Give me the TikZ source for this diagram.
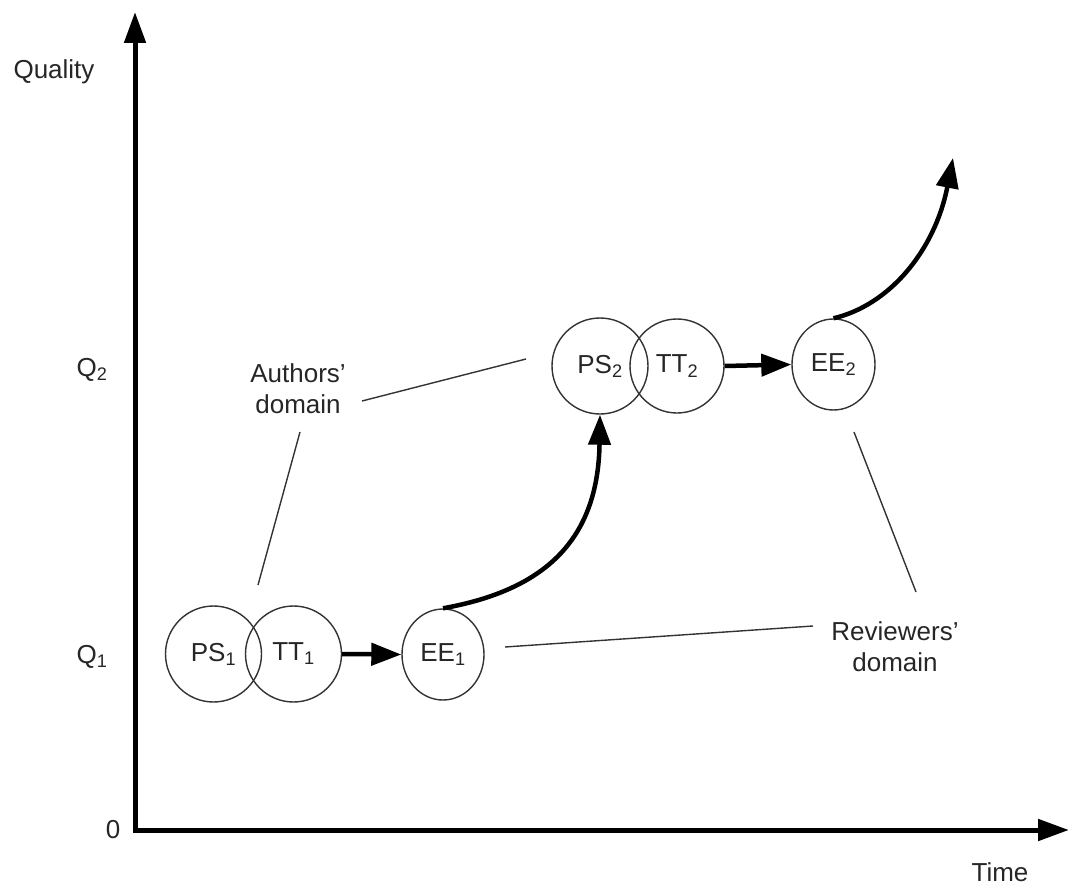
\documentclass[tikz,border=0pt]{standalone}
\usepackage{fontspec}
\setmainfont{Liberation Sans}
\usetikzlibrary{arrows.meta,shapes.geometric}
\begin{document}
\begin{tikzpicture}[x=1pt,y=-1pt,
  lbl/.style={font=\fontsize{26}{31}\selectfont, text=black!85, inner sep=0pt, align=center},
  circ/.style={draw=black!80, line width=1.4pt, circle, minimum size=96pt, inner sep=0pt, font=\fontsize{26}{31}\selectfont, text=black!85},
  ell/.style={draw=black!80, line width=1.4pt, ellipse, minimum width=82pt, minimum height=91pt, inner sep=0pt, font=\fontsize{26}{31}\selectfont, text=black!85},
  axis/.style={line width=5pt, -{Triangle[length=31pt,width=21pt]}},
  flow/.style={line width=4.5pt, -{Triangle[length=30pt,width=22pt]}},
  thin/.style={draw=black!80, line width=1.4pt}
]
\useasboundingbox (0,0) rectangle (1071,888);
% axes
\coordinate (O) at (135,830);
\coordinate (ytop) at (135,12);
\coordinate (xend) at (1069,830);
\draw[axis, line cap=rect] (O) -- (ytop);
\draw[axis] (O) -- (xend);
% axis labels
\node[lbl] (quality) at (54,72) {Quality};
\node[lbl] (q2) at (92,370) {Q\textsubscript{2}};
\node[lbl] (q1) at (92,657) {Q\textsubscript{1}};
\node[lbl] (zero) at (113,830) {0};
\node[lbl] (time) at (1000,872) {Time};
% stage 1
\node[circ] (ps1) at (213.5,654) {PS\textsubscript{1}};
\node[circ] (tt1) at (293.5,654) {TT\textsubscript{1}};
\node[ell] (ee1) at (443,654.5) {EE\textsubscript{1}};
% stage 2
\node[circ] (ps2) at (600,366) {PS\textsubscript{2}};
\node[circ, minimum size=94pt] (tt2) at (677,366) {TT\textsubscript{2}};
\node[ell, minimum width=83pt] (ee2) at (833.5,364.5) {EE\textsubscript{2}};
% flow arrows
\draw[flow] (tt1.east) -- (ee1.west);
\draw[flow] (tt2.east) -- (ee2.west);
\draw[flow] (ee1.north) .. controls (545,590) and (598,540) .. (ps2.south);
\coordinate (up) at (953,158);
\draw[flow] (ee2.north) .. controls (890,305) and (935,250) .. (up);
% domain labels
\node[lbl] (authors) at (298,389) {Authors'\\domain};
\node[lbl] (reviewers) at (895,647) {Reviewers'\\domain};
\coordinate (a1) at (362,401);
\coordinate (a2) at (526,359);
\coordinate (a3) at (300,432);
\coordinate (a4) at (258,585);
\coordinate (r1) at (813,626);
\coordinate (r2) at (505,647);
\coordinate (r3) at (916,592);
\coordinate (r4) at (854,432);
\draw[thin] (a1) -- (a2);
\draw[thin] (a3) -- (a4);
\draw[thin] (r1) -- (r2);
\draw[thin] (r3) -- (r4);
\end{tikzpicture}
\end{document}
